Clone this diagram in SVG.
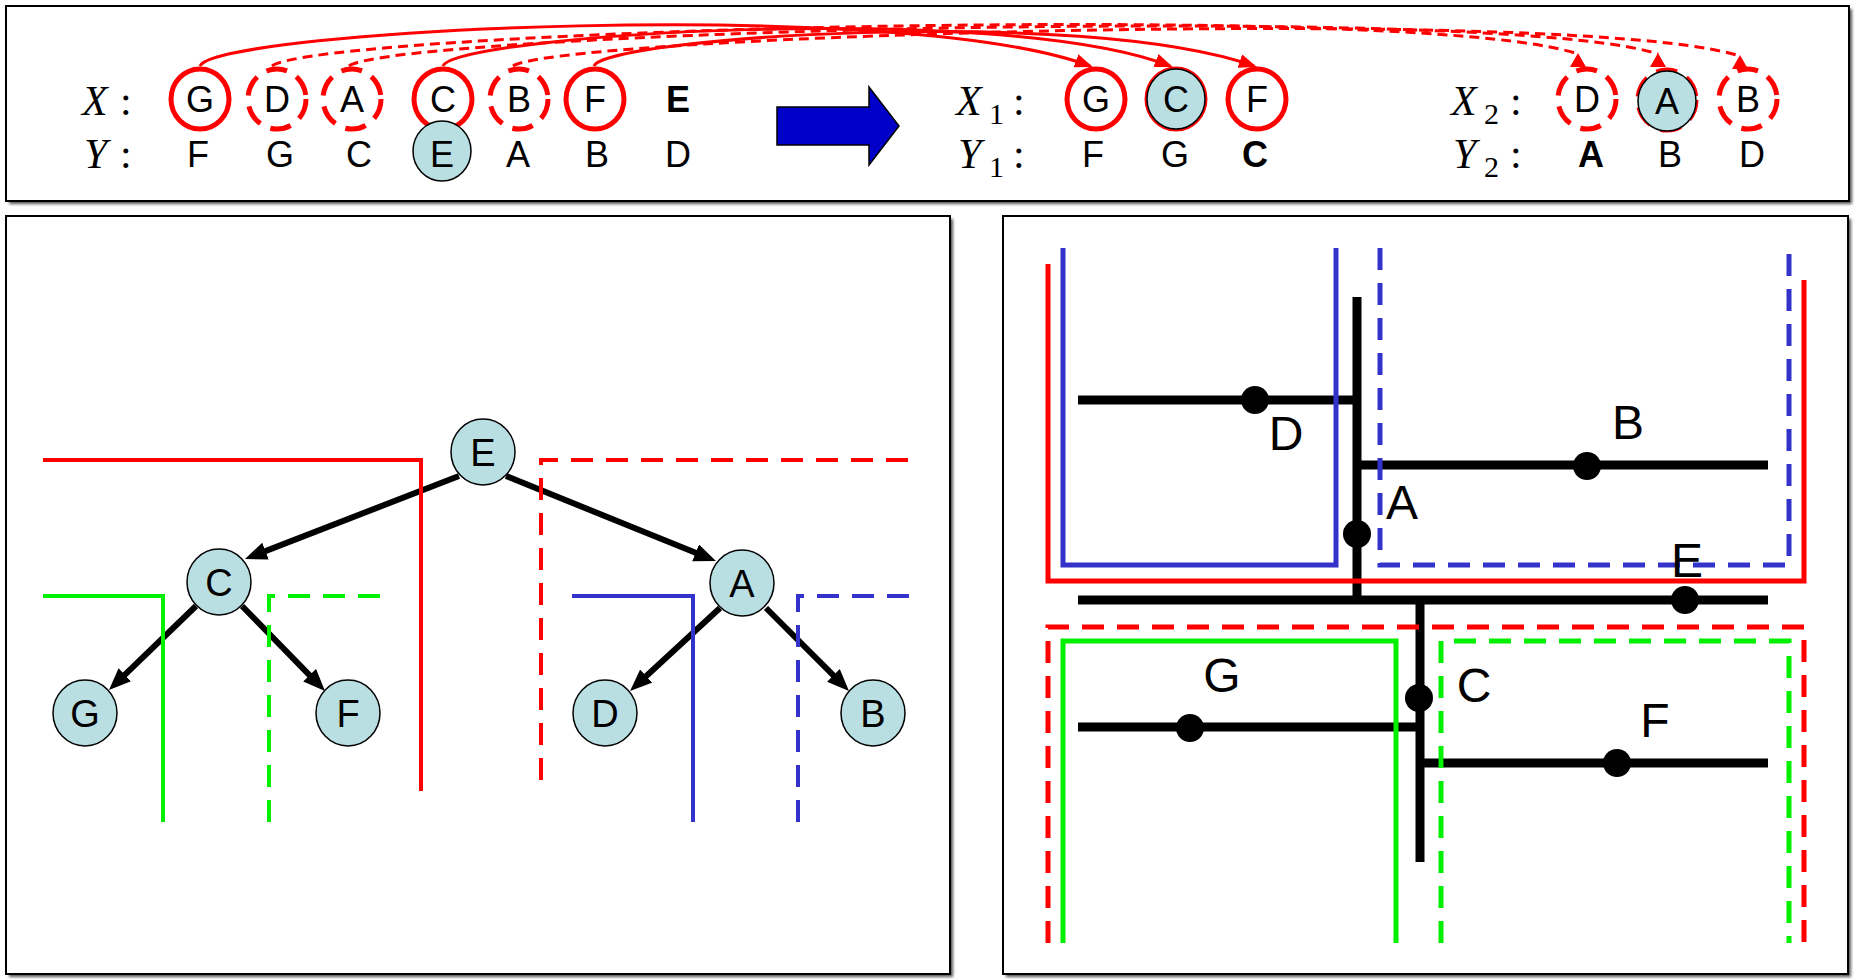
<svg xmlns="http://www.w3.org/2000/svg" width="1855" height="979" viewBox="0 0 1855 979">
<defs>
  <filter id="blur" x="-5%" y="-5%" width="110%" height="110%"><feGaussianBlur stdDeviation="1.5"/></filter>
  <marker id="ah" markerUnits="userSpaceOnUse" markerWidth="26" markerHeight="20" refX="12" refY="9" orient="auto">
    <path d="M0,0 L22,9 L0,18 z" fill="#000"/>
  </marker>
  <marker id="rah" markerUnits="userSpaceOnUse" markerWidth="20" markerHeight="16" refX="15" refY="7" orient="auto">
    <path d="M0,0 L18,7 L0,14 z" fill="#ff0000"/>
  </marker>
  <marker id="rup" markerUnits="userSpaceOnUse" markerWidth="20" markerHeight="16" refX="9" refY="1" orient="0" overflow="visible">
    <path d="M9,0 L1,14 L17,14 z" fill="#ff0000"/>
  </marker>
  <style>
    .frame { fill: #ffffff; stroke: #000; stroke-width: 2; }
    .shadow { fill: #555; filter: url(#blur); }
    .node { fill: #b9dfe3; stroke: #000; stroke-width: 1.5; }
    .lbl { font-family: "Liberation Sans", Arial, sans-serif; font-size: 38px; text-anchor: middle; fill: #000; }
    .big { font-family: "Liberation Sans", Arial, sans-serif; font-size: 48px; text-anchor: middle; fill: #000; }
    .seq { font-family: "Liberation Sans", Arial, sans-serif; font-size: 36px; text-anchor: middle; fill: #000; }
    .bold { font-weight: bold; }
    .m { font-family: "Liberation Serif", "Times New Roman", serif; font-style: italic; font-size: 42px; fill: #000; }
    .c { font-style: normal; }
    .sub { font-style: normal; font-size: 30px; }
    .edge { stroke: #000; stroke-width: 6; fill: none; marker-end: url(#ah); }
    .rc { fill: #fff; stroke: #ff0000; stroke-width: 5; }
    .rcd { fill: #fff; stroke: #ff0000; stroke-width: 5; stroke-dasharray: 21 11; }
    .arc { fill: none; stroke: #ff0000; stroke-width: 3; }
    .arcs { marker-end: url(#rah); }
    .arcd { stroke-dasharray: 10 6; marker-end: url(#rup); }
    .p { fill: none; stroke-width: 4; }
    .pr { fill: none; stroke-width: 5; }
    .red { stroke: #ff0000; }
    .grn { stroke: #00f000; }
    .blu { stroke: #3333cc; }
    .dash { stroke-dasharray: 22 13; }
    .bl { stroke: #000; stroke-width: 9; fill: none; }
    .dot { fill: #000; }
  </style>
</defs>

<!-- frames -->
<rect class="shadow" x="9" y="9" width="1843" height="195"/>
<rect class="frame" x="6" y="6" width="1843" height="195"/>
<rect class="shadow" x="9" y="219" width="944" height="758"/>
<rect class="frame" x="6" y="216" width="944" height="758"/>
<rect class="shadow" x="1006" y="219" width="845" height="758"/>
<rect class="frame" x="1003" y="216" width="845" height="758"/>

<!-- ===== top panel ===== -->
<g id="top-panel">
  <g id="seq-labels">
    <text class="m" x="82" y="115">X</text><text class="m c" x="120" y="115">:</text>
    <text class="m" x="84" y="168">Y</text><text class="m c" x="120" y="168">:</text>
    <text class="m" x="956" y="115">X</text><text class="m sub" x="989" y="124">1</text><text class="m c" x="1013" y="115">:</text>
    <text class="m" x="958" y="168">Y</text><text class="m sub" x="989" y="177">1</text><text class="m c" x="1013" y="168">:</text>
    <text class="m" x="1451" y="115">X</text><text class="m sub" x="1484" y="124">2</text><text class="m c" x="1510" y="115">:</text>
    <text class="m" x="1453" y="168">Y</text><text class="m sub" x="1484" y="177">2</text><text class="m c" x="1510" y="168">:</text>
  </g>

  <g id="x-row">
    <ellipse class="rc" cx="200" cy="99" rx="29" ry="30"/>
    <ellipse class="rcd" cx="277" cy="99" rx="29" ry="30"/>
    <ellipse class="rcd" cx="352" cy="99" rx="29" ry="30"/>
    <ellipse class="rc" cx="443" cy="99" rx="29" ry="30"/>
    <ellipse class="rcd" cx="519" cy="99" rx="29" ry="30"/>
    <ellipse class="rc" cx="595" cy="99" rx="29" ry="30"/>
    <text class="seq" x="200" y="112">G</text>
    <text class="seq" x="277" y="112">D</text>
    <text class="seq" x="352" y="112">A</text>
    <text class="seq" x="443" y="112">C</text>
    <text class="seq" x="519" y="112">B</text>
    <text class="seq" x="595" y="112">F</text>
    <text class="seq bold" x="678" y="112">E</text>
  </g>
  <g id="y-row">
    <ellipse class="node" cx="442" cy="151" rx="29" ry="30"/>
    <text class="seq" x="198" y="167">F</text>
    <text class="seq" x="280" y="167">G</text>
    <text class="seq" x="359" y="167">C</text>
    <text class="seq" x="442" y="167">E</text>
    <text class="seq" x="518" y="167">A</text>
    <text class="seq" x="597" y="167">B</text>
    <text class="seq" x="678" y="167">D</text>
  </g>

  <polygon id="big-arrow" points="777,107 869,107 869,87 899,126 869,165 869,145 777,145" fill="#0000c8" stroke="#000" stroke-width="1.5"/>

  <g id="x1-row">
    <ellipse class="rc" cx="1096" cy="99" rx="29" ry="30"/>
    <ellipse class="rc" cx="1176" cy="99" rx="29" ry="30"/>
    <ellipse class="node" cx="1176" cy="99" rx="29" ry="30"/>
    <ellipse class="rc" cx="1257" cy="99" rx="29" ry="30"/>
    <text class="seq" x="1096" y="112">G</text>
    <text class="seq" x="1176" y="112">C</text>
    <text class="seq" x="1257" y="112">F</text>
  </g>
  <g id="y1-row">
    <text class="seq" x="1093" y="167">F</text>
    <text class="seq" x="1175" y="167">G</text>
    <text class="seq bold" x="1255" y="167">C</text>
  </g>
  <g id="x2-row">
    <ellipse class="rcd" cx="1587" cy="99" rx="29" ry="30"/>
    <ellipse class="rcd" cx="1667" cy="100" rx="29" ry="30"/>
    <ellipse class="node" cx="1667" cy="101" rx="29" ry="30"/>
    <ellipse class="rcd" cx="1748" cy="99" rx="29" ry="30"/>
    <text class="seq" x="1587" y="112">D</text>
    <text class="seq" x="1667" y="114">A</text>
    <text class="seq" x="1748" y="112">B</text>
  </g>
  <g id="y2-row">
    <text class="seq bold" x="1591" y="167">A</text>
    <text class="seq" x="1670" y="167">B</text>
    <text class="seq" x="1752" y="167">D</text>
  </g>

  <g id="top-connectors">
    <path class="arc arcs" d="M200,66 C215,30 900,-5 1090,66"/>
    <path class="arc arcs" d="M443,66 C455,35 1000,0 1170,66"/>
    <path class="arc arcs" d="M594,66 C605,38 1080,5 1254,66"/>
    <path class="arc arcd" d="M272,66 C320,30 1420,0 1578,54"/>
    <path class="arc arcd" d="M349,66 C395,32 1500,2 1658,54"/>
    <path class="arc arcd" d="M513,66 C560,35 1580,5 1740,56"/>
  </g>
</g>

<!-- ===== left panel: tree ===== -->
<g id="tree-connectors">
  <line class="edge" x1="459" y1="476" x2="254.3" y2="555.4"/>
  <line class="edge" x1="506" y1="476" x2="706.7" y2="557.3"/>
  <line class="edge" x1="196" y1="606" x2="116.2" y2="683.1"/>
  <line class="edge" x1="242" y1="606" x2="318" y2="683.8"/>
  <line class="edge" x1="720" y1="608" x2="637.4" y2="684.2"/>
  <line class="edge" x1="766" y1="608" x2="841.9" y2="683.9"/>
</g>
<g id="tree-partitions">
  <path class="p red" d="M43,460 H421 V791"/>
  <path class="p red dash" d="M541,780 V460 H920"/>
  <path class="p grn" d="M43,596 H163 V822"/>
  <path class="p grn dash" d="M269,822 V596 H391"/>
  <path class="p blu" d="M572,596 H693 V822"/>
  <path class="p blu dash" d="M798,822 V596 H920"/>
</g>
<g id="node-E"><ellipse class="node" cx="483" cy="452" rx="32" ry="33"/><text class="lbl" x="483" y="466">E</text></g>
<g id="node-C"><ellipse class="node" cx="219" cy="582" rx="32" ry="33"/><text class="lbl" x="219" y="596">C</text></g>
<g id="node-A"><ellipse class="node" cx="742" cy="583" rx="32" ry="33"/><text class="lbl" x="742" y="597">A</text></g>
<g id="node-G"><ellipse class="node" cx="85" cy="713" rx="32" ry="33"/><text class="lbl" x="85" y="727">G</text></g>
<g id="node-F"><ellipse class="node" cx="348" cy="713" rx="32" ry="33"/><text class="lbl" x="348" y="727">F</text></g>
<g id="node-D"><ellipse class="node" cx="605" cy="713" rx="32" ry="33"/><text class="lbl" x="605" y="727">D</text></g>
<g id="node-B"><ellipse class="node" cx="873" cy="713" rx="32" ry="33"/><text class="lbl" x="873" y="727">B</text></g>

<!-- ===== right panel: spatial partition ===== -->
<g id="kd-lines">
  <line class="bl" x1="1357" y1="297" x2="1357" y2="600"/>
  <line class="bl" x1="1078" y1="600" x2="1768" y2="600"/>
  <line class="bl" x1="1078" y1="400" x2="1357" y2="400"/>
  <line class="bl" x1="1357" y1="465" x2="1768" y2="465"/>
  <line class="bl" x1="1420" y1="600" x2="1420" y2="862"/>
  <line class="bl" x1="1078" y1="727" x2="1420" y2="727"/>
  <line class="bl" x1="1420" y1="763" x2="1768" y2="763"/>
</g>
<g id="kd-regions">
  <path class="pr red" d="M1048,264 V581 H1804 V280"/>
  <path class="pr blu" d="M1063,248 V565 H1336 V248"/>
  <path class="pr blu dash" d="M1380,248 V565 H1789 V248"/>
  <path class="pr red dash" d="M1048,943 V627 H1804 V943"/>
  <path class="pr grn" d="M1063,943 V641 H1396 V943"/>
  <path class="pr grn dash" d="M1441,943 V641 H1789 V943"/>
</g>
<g id="pt-D"><circle class="dot" cx="1255" cy="400" r="14"/><text class="big" x="1286" y="450">D</text></g>
<g id="pt-B"><circle class="dot" cx="1587" cy="466" r="14"/><text class="big" x="1628" y="439">B</text></g>
<g id="pt-A"><circle class="dot" cx="1357" cy="534" r="14"/><text class="big" x="1402" y="519">A</text></g>
<g id="pt-E"><circle class="dot" cx="1685" cy="600" r="14"/><text class="big" x="1687" y="577">E</text></g>
<g id="pt-C"><circle class="dot" cx="1419" cy="698" r="14"/><text class="big" x="1474" y="702">C</text></g>
<g id="pt-G"><circle class="dot" cx="1190" cy="728" r="14"/><text class="big" x="1222" y="692">G</text></g>
<g id="pt-F"><circle class="dot" cx="1617" cy="763" r="14"/><text class="big" x="1655" y="737">F</text></g>
</svg>
